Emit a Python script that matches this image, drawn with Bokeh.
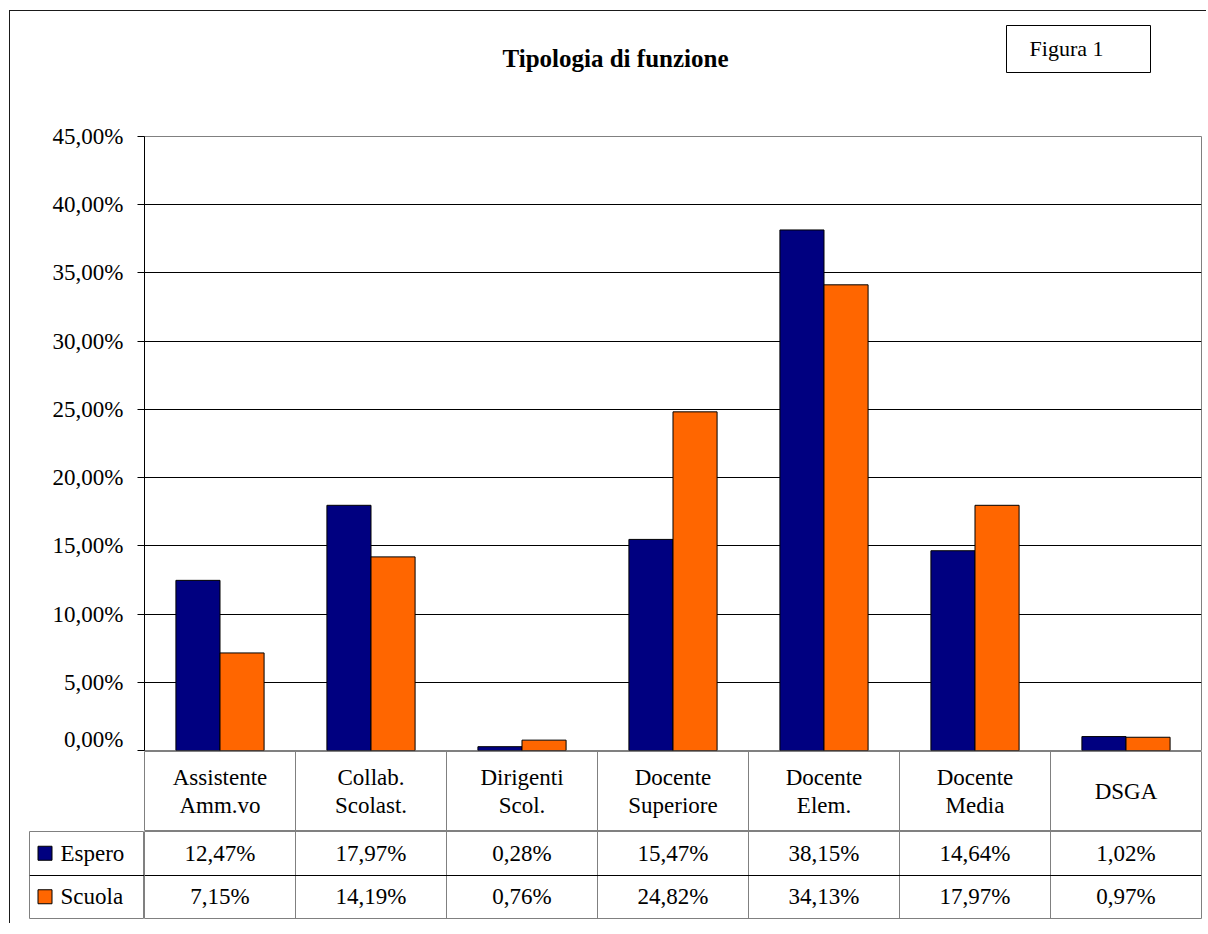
from bokeh.plotting import figure
from bokeh.layouts import column, row
from bokeh.models import Range1d, FactorRange, FixedTicker, ColumnDataSource
from bokeh.transform import dodge
from bokeh.core.properties import value
from bokeh.embed import file_html
from bokeh.resources import INLINE

# ---------------- data ----------------
categories = ["Assistente Amm.vo", "Collab. Scolast.", "Dirigenti Scol.",
              "Docente Superiore", "Docente Elem.", "Docente Media", "DSGA"]
header_labels = ["Assistente\nAmm.vo", "Collab.\nScolast.", "Dirigenti\nScol.",
                 "Docente\nSuperiore", "Docente\nElem.", "Docente\nMedia", "DSGA"]
series_names = ["Espero", "Scuola"]
espero = [12.47, 17.97, 0.28, 15.47, 38.15, 14.64, 1.02]
scuola = [7.15, 14.19, 0.76, 24.82, 34.13, 17.97, 0.97]
y_ticks = [0, 5, 10, 15, 20, 25, 30, 35, 40, 45]
y_tick_labels = ["0,00%", "5,00%", "10,00%", "15,00%", "20,00%", "25,00%",
                 "30,00%", "35,00%", "40,00%", "45,00%"]
title_text = "Tipologia di funzione"
figure_tag = "Figura 1"

NAVY = "#000080"
ORANGE = "#FF6600"
FONT = "Liberation Serif"
GRAY = "#808080"

W = 1196          # content width
LEFT = 134        # space left of the plot frame
RIGHT = 5
LEG_W = 115       # legend column of the data table
X0 = 11           # page x of the content's left edge
Y0 = 11           # page y of the content's top edge
TOP_H = 100


def fmt(v):
    return ("%.2f" % v).replace(".", ",") + "%"


# ---------------- heading (title + "Figura 1" box) ----------------
# ranges expressed in page pixels of the frame (frame spans x0+LEFT .. x0+W-RIGHT)
top = figure(width=W, height=TOP_H,
             x_range=Range1d(X0 + LEFT, X0 + W - RIGHT),
             y_range=Range1d(Y0 + TOP_H, Y0),
             output_backend="svg", toolbar_location=None,
             x_axis_location=None, y_axis_location=None,
             min_border_left=LEFT, min_border_right=RIGHT,
             min_border_top=0, min_border_bottom=0)
top.outline_line_color = None
top.xgrid.grid_line_color = None
top.ygrid.grid_line_color = None
top.text(x=[616], y=[58], text=[title_text], text_font=value(FONT),
         text_font_size="25px", text_font_style="bold", text_align="center",
         text_baseline="middle", text_color="black")
top.quad(left=[1007], right=[1151], top=[25], bottom=[72], fill_color="white",
         line_color="black", line_width=1)
top.text(x=[1067], y=[48], text=[figure_tag], text_font=value(FONT),
         text_font_size="22px", text_align="center", text_baseline="middle",
         text_color="black")

# ---------------- chart ----------------
xr = FactorRange(factors=categories, range_padding=0)
p = figure(width=W, height=640, x_range=xr, y_range=Range1d(0, 45),
           output_backend="svg", toolbar_location=None, x_axis_location=None,
           min_border_left=LEFT, min_border_right=RIGHT,
           min_border_top=25, min_border_bottom=1)
p.outline_line_color = GRAY
p.outline_line_width = 1
p.background_fill_color = "white"
p.border_fill_color = "white"

src = ColumnDataSource(dict(cat=categories, espero=espero, scuola=scuola))
p.vbar(x=dodge("cat", -0.146, range=xr), top="espero", width=0.292, source=src,
       fill_color=NAVY, line_color="black", line_width=1)
p.vbar(x=dodge("cat", 0.146, range=xr), top="scuola", width=0.292, source=src,
       fill_color=ORANGE, line_color="black", line_width=1)

ax = p.yaxis[0]
ax.ticker = FixedTicker(ticks=y_ticks)
ax.major_label_overrides = {t: l for t, l in zip(y_ticks, y_tick_labels)}
ax.major_label_text_font = FONT
ax.major_label_text_font_size = "23px"
ax.major_label_text_color = "black"
ax.major_tick_in = 0
ax.major_tick_out = 7
ax.minor_tick_line_color = None
ax.axis_line_color = "black"
ax.major_tick_line_color = "black"
ax.major_label_standoff = 14
p.ygrid.ticker = FixedTicker(ticks=y_ticks[:-1])
p.ygrid.grid_line_color = "black"
p.xgrid.grid_line_color = None

# ---------------- table header ----------------
bounds = list(range(len(categories) + 1))
h = figure(width=W, height=80, x_range=xr, y_range=Range1d(-1, 1),
           output_backend="svg", toolbar_location=None,
           x_axis_location=None, y_axis_location=None,
           min_border_left=LEFT, min_border_right=RIGHT,
           min_border_top=0, min_border_bottom=0)
h.outline_line_color = GRAY
h.ygrid.grid_line_color = None
h.xgrid.ticker = FixedTicker(ticks=bounds)
h.xgrid.grid_line_color = GRAY
hsrc = ColumnDataSource(dict(cat=categories, lab=header_labels, y=[0] * len(categories)))
h.text(x="cat", y="y", text="lab", source=hsrc, text_font=value(FONT),
       text_font_size="23px", text_align="center", text_baseline="middle",
       text_line_height=1.15, text_color="black")

# ---------------- table rows ----------------
yr = FactorRange(factors=list(reversed(series_names)), range_padding=0)

# legend column
lg = figure(width=LEFT, height=92, x_range=Range1d(0, LEG_W), y_range=yr,
            output_backend="svg", toolbar_location=None,
            x_axis_location=None, y_axis_location=None,
            min_border_left=LEFT - LEG_W, min_border_right=0,
            min_border_top=0, min_border_bottom=5)
lg.outline_line_color = GRAY
lg.xgrid.grid_line_color = None
lg.ygrid.ticker = FixedTicker(ticks=[1])
lg.ygrid.grid_line_color = "black"
leg = ColumnDataSource(dict(ser=series_names, color=[NAVY, ORANGE],
                            xs=[15.5] * 2, xt=[31] * 2))
lg.scatter(x="xs", y="ser", marker="square", size=14, fill_color="color",
           line_color="black", line_width=1, source=leg)
lg.text(x="xt", y="ser", text="ser", source=leg, text_font=value(FONT),
        text_font_size="23px", text_align="left", text_baseline="middle",
        text_color="black")

# value cells
t = figure(width=W - LEFT, height=92, x_range=xr, y_range=yr,
           output_backend="svg", toolbar_location=None,
           x_axis_location=None, y_axis_location=None,
           min_border_left=0, min_border_right=RIGHT,
           min_border_top=0, min_border_bottom=5)
t.outline_line_color = GRAY
t.ygrid.ticker = FixedTicker(ticks=[1])
t.ygrid.grid_line_color = "black"
t.xgrid.ticker = FixedTicker(ticks=bounds)
t.xgrid.grid_line_color = GRAY

cells = dict(cat=categories * 2,
             ser=[series_names[0]] * len(categories) + [series_names[1]] * len(categories),
             txt=[fmt(v) for v in espero] + [fmt(v) for v in scuola])
t.text(x="cat", y="ser", text="txt", source=ColumnDataSource(cells),
       text_font=value(FONT), text_font_size="23px", text_align="center",
       text_baseline="middle", text_color="black")

layout = column(top, p, h, row(lg, t, spacing=0), spacing=0,
                styles={"border-left": "1px solid #1a1a1a",
                        "border-top": "1px solid #1a1a1a",
                        "margin-left": "9px", "margin-top": "10px"})

open("out.html", "w").write(file_html(layout, INLINE))
